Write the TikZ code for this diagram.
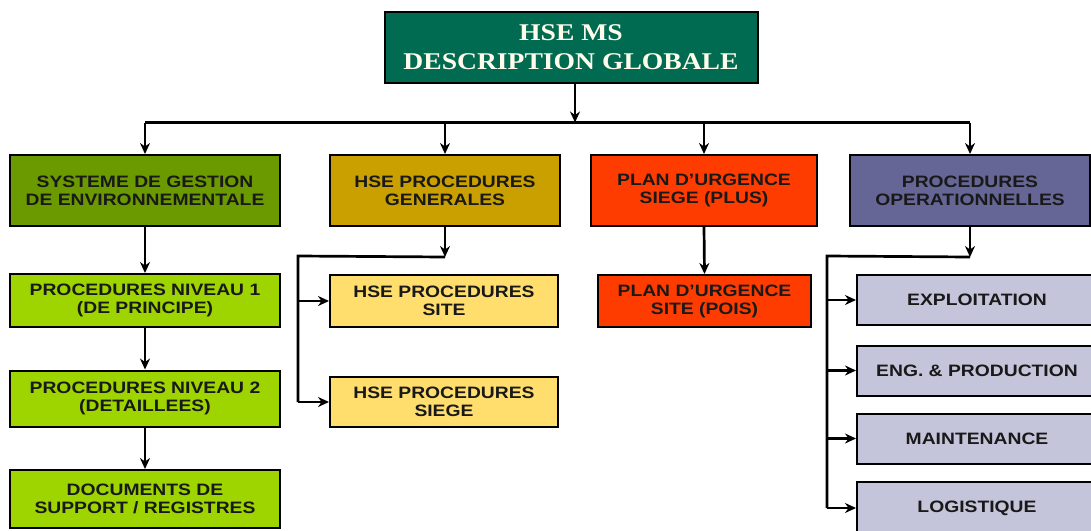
\documentclass[tikz,border=0pt]{standalone}
\usepackage{fontspec}
\setmainfont{Liberation Sans}[FakeStretch=1.17]
\newfontfamily\titlefont{Liberation Serif}[FakeStretch=1.15]
\usetikzlibrary{arrows.meta,calc}
\definecolor{topgreen}{RGB}{0,107,80}
\definecolor{sgegreen}{RGB}{107,153,0}
\definecolor{lvlgreen}{RGB}{158,212,0}
\definecolor{gengold}{RGB}{201,160,0}
\definecolor{siteyellow}{RGB}{255,222,110}
\definecolor{planred}{RGB}{255,60,0}
\definecolor{oppurple}{RGB}{102,102,150}
\definecolor{oplight}{RGB}{196,196,218}
\definecolor{titletext}{RGB}{255,252,236}
\begin{document}
\begin{tikzpicture}[x=1pt,y=-1pt,
  box/.style={draw=black, line width=2pt, inner sep=0pt, align=center,
    font=\bfseries\fontsize{16.5}{18}\selectfont, text=black!90},
  conn/.style={line width=2.7pt, draw=black},
  arr/.style={conn, -{Stealth[length=11pt,width=10pt]}}]
\clip (0,0) rectangle (1091,530);
\fill[white] (0,0) rectangle (1091,530);

% top
\node[box, fill=topgreen, minimum width=373, minimum height=71,
  font=\titlefont\bfseries\fontsize{24}{29}\selectfont, text=titletext]
  (top) at (571,47.5) {HSE MS\\DESCRIPTION GLOBALE};

% first row
\node[box, fill=sgegreen, minimum width=270, minimum height=71] (sge) at (145,190.5)
  {SYSTEME DE GESTION\\DE ENVIRONNEMENTALE};
\node[box, fill=gengold, minimum width=230, minimum height=71] (gen) at (445,190.5)
  {HSE PROCEDURES\\GENERALES};
\node[box, fill=planred, minimum width=226, minimum height=71] (plan) at (704,190.5)
  {PLAN D’URGENCE\\SIEGE (PLUS)};
\node[box, fill=oppurple, minimum width=240, minimum height=71] (op) at (970,190.5)
  {PROCEDURES\\OPERATIONNELLES};

% SGE column
\node[box, fill=lvlgreen, minimum width=270, minimum height=53] (pn1) at (145,300.5)
  {PROCEDURES NIVEAU 1\\(DE PRINCIPE)};
\node[box, fill=lvlgreen, minimum width=270, minimum height=56] (pn2) at (145,398.5)
  {PROCEDURES NIVEAU 2\\(DETAILLEES)};
\node[box, fill=lvlgreen, minimum width=270, minimum height=58] (docs) at (145,499)
  {DOCUMENTS DE\\SUPPORT / REGISTRES};

% HSE general column
\node[box, fill=siteyellow, minimum width=228, minimum height=52] (site) at (444,301)
  {HSE PROCEDURES\\SITE};
\node[box, fill=siteyellow, minimum width=228, minimum height=50] (siege) at (444,402)
  {HSE PROCEDURES\\SIEGE};

% plan column
\node[box, fill=planred, minimum width=213, minimum height=52] (psite) at (704.5,301)
  {PLAN D’URGENCE\\SITE (POIS)};

% operational column
\node[box, fill=oplight, minimum width=240, minimum height=50] (expl) at (977,300)
  {EXPLOITATION};
\node[box, fill=oplight, minimum width=240, minimum height=50] (eng) at (977,370.5)
  {ENG. \& PRODUCTION};
\node[box, fill=oplight, minimum width=240, minimum height=50] (maint) at (977,438.5)
  {MAINTENANCE};
\node[box, fill=oplight, minimum width=240, minimum height=52] (logi) at (977,508)
  {LOGISTIQUE};

% connectors from top
\coordinate (bus) at (575,122.5);
\draw[arr] ($(top.south)+(4,0)$) -- (bus);
\draw[conn] (bus -| sge.north) -- (bus -| op.north);
\draw[arr] (bus -| sge.north) -- (sge.north);
\draw[arr] (bus -| gen.north) -- (gen.north);
\draw[arr] (bus -| plan.north) -- (plan.north);
\draw[arr] (bus -| op.north) -- (op.north);

% SGE chain
\draw[arr] (sge.south) -- (pn1.north);
\draw[arr] (pn1.south) -- (pn2.north);
\draw[arr] (pn2.south) -- (docs.north);

% general branch
\coordinate (gbus) at ($(gen.south)+(0,30)$);
\coordinate (gleft) at (298,256);
\draw[arr] (gen.south) -- (gbus);
\draw[conn] (gbus) -- (gleft) -- (gleft |- siege.west);
\draw[arr] (gleft |- site.west) -- (site.west);
\draw[arr] (gleft |- siege.west) -- (siege.west);

% plan
\draw[arr] (plan.south) -- (psite.north);

% operational branch
\coordinate (obus) at ($(op.south)+(0,30)$);
\coordinate (oleft) at (827,256);
\draw[arr] (op.south) -- (obus);
\draw[conn] (obus) -- (oleft) -- (oleft |- logi.west);
\draw[arr] (oleft |- expl.west) -- (expl.west);
\draw[arr] (oleft |- eng.west) -- (eng.west);
\draw[arr] (oleft |- maint.west) -- (maint.west);
\draw[arr] (oleft |- logi.west) -- (logi.west);
\end{tikzpicture}
\end{document}
